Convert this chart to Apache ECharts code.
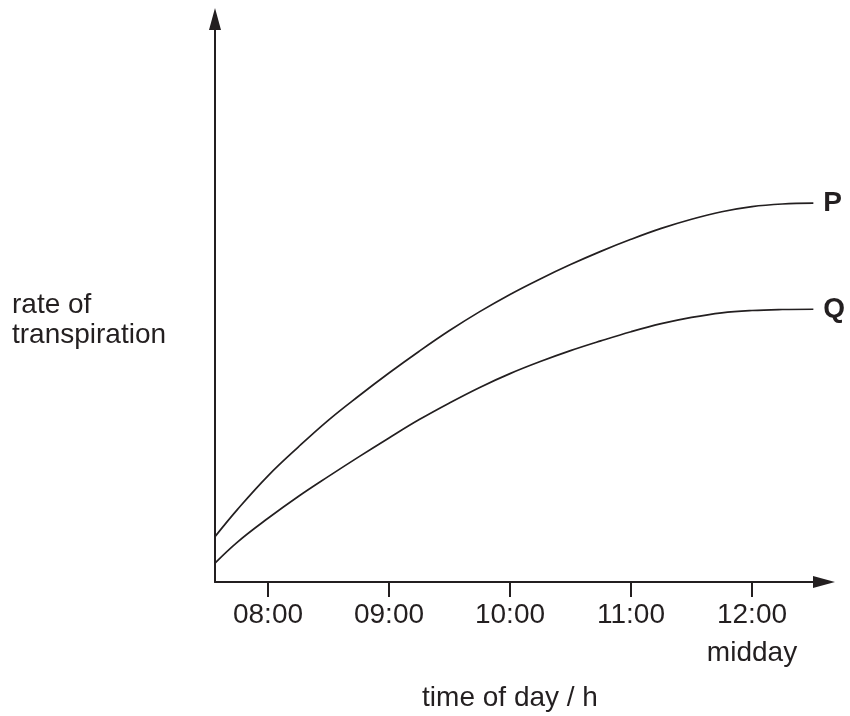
<!DOCTYPE html>
<html>
<head>
<meta charset="utf-8">
<script src="https://cdn.jsdelivr.net/npm/echarts@6/dist/echarts.min.js"></script>
<style>
html,body{margin:0;padding:0;background:#fff;}
#chart{width:850px;height:716px;}
</style>
</head>
<body>
<div id="chart"></div>
<script>
// time of day in hours
var hours = [7.562, 7.75, 8.0, 8.25, 8.5, 8.75, 9.0, 9.25, 9.5, 9.75, 10.0, 10.25, 10.5, 10.75, 11.0, 11.25, 11.5, 11.75, 12.0, 12.25, 12.507];
// rate of transpiration (arbitrary units)
var pRate = [7.9, 12.7, 18.5, 23.5, 28.2, 32.4, 36.4, 40.2, 43.8, 47.1, 50.1, 52.8, 55.3, 57.6, 59.7, 61.6, 63.2, 64.5, 65.4, 65.85, 66.0];
var qRate = [3.3, 7.0, 11.1, 14.9, 18.4, 21.8, 25.1, 28.3, 31.2, 33.9, 36.3, 38.4, 40.3, 42.0, 43.6, 45.0, 46.1, 46.9, 47.3, 47.47, 47.52];
var tickHours = [8, 9, 10, 11, 12];
var tickLabels = ['08:00', '09:00', '10:00', '11:00', '12:00\nmidday'];
var seriesNames = ['P', 'Q'];
var xAxisTitle = 'time of day / h';
var yAxisTitle = 'rate of\ntranspiration';

var ink = '#231f20';
var font = 'Liberation Sans, Arial, Helvetica, sans-serif';

function pairs(xs, ys) {
  return xs.map(function (x, i) { return [x, ys[i]]; });
}

function curve(name, values) {
  return {
    name: name,
    type: 'line',
    data: pairs(hours, values),
    smooth: 0.4,
    showSymbol: false,
    lineStyle: {color: ink, width: 1.7},
    endLabel: {
      show: true,
      formatter: '{a}',
      distance: 10,
      color: ink,
      fontSize: 28,
      fontWeight: 'bold',
      fontFamily: font
    }
  };
}

var chart = echarts.init(document.getElementById('chart'), null, {renderer: 'canvas'});
chart.setOption({
  animation: false,
  backgroundColor: '#ffffff',
  grid: {left: 215, right: 26, top: 19, bottom: 134, containLabel: false},
  xAxis: {
    type: 'value',
    min: 7.562,
    max: 12.595,
    splitLine: {show: false},
    axisLine: {
      show: true,
      onZero: true,
      symbol: ['none', 'triangle'],
      symbolSize: [12, 22],
      lineStyle: {color: ink, width: 2}
    },
    axisTick: {
      show: true,
      customValues: tickHours,
      length: 15,
      lineStyle: {color: ink, width: 2}
    },
    axisLabel: {
      show: true,
      customValues: tickHours,
      margin: 14,
      color: ink,
      fontSize: 28,
      lineHeight: 38,
      fontFamily: font,
      align: 'center',
      formatter: function (v) {
        var i = tickHours.indexOf(v);
        return i >= 0 ? tickLabels[i] : '';
      }
    }
  },
  yAxis: {
    type: 'value',
    min: 0,
    max: 98.08,
    splitLine: {show: false},
    axisLine: {
      show: true,
      onZero: false,
      symbol: ['none', 'triangle'],
      symbolSize: [12, 22],
      lineStyle: {color: ink, width: 2}
    },
    axisTick: {show: false},
    axisLabel: {show: false}
  },
  graphic: [
    {
      type: 'text',
      x: 12, y: 290,
      style: {
        text: yAxisTitle,
        fill: ink,
        font: '28px ' + font,
        lineHeight: 30,
        align: 'left',
        verticalAlign: 'top'
      }
    },
    {
      type: 'text',
      x: 510, y: 698,
      style: {
        text: xAxisTitle,
        fill: ink,
        font: '28px ' + font,
        align: 'center',
        verticalAlign: 'middle'
      }
    }
  ],
  series: [
    curve(seriesNames[0], pRate),
    curve(seriesNames[1], qRate)
  ]
});
</script>
</body>
</html>
